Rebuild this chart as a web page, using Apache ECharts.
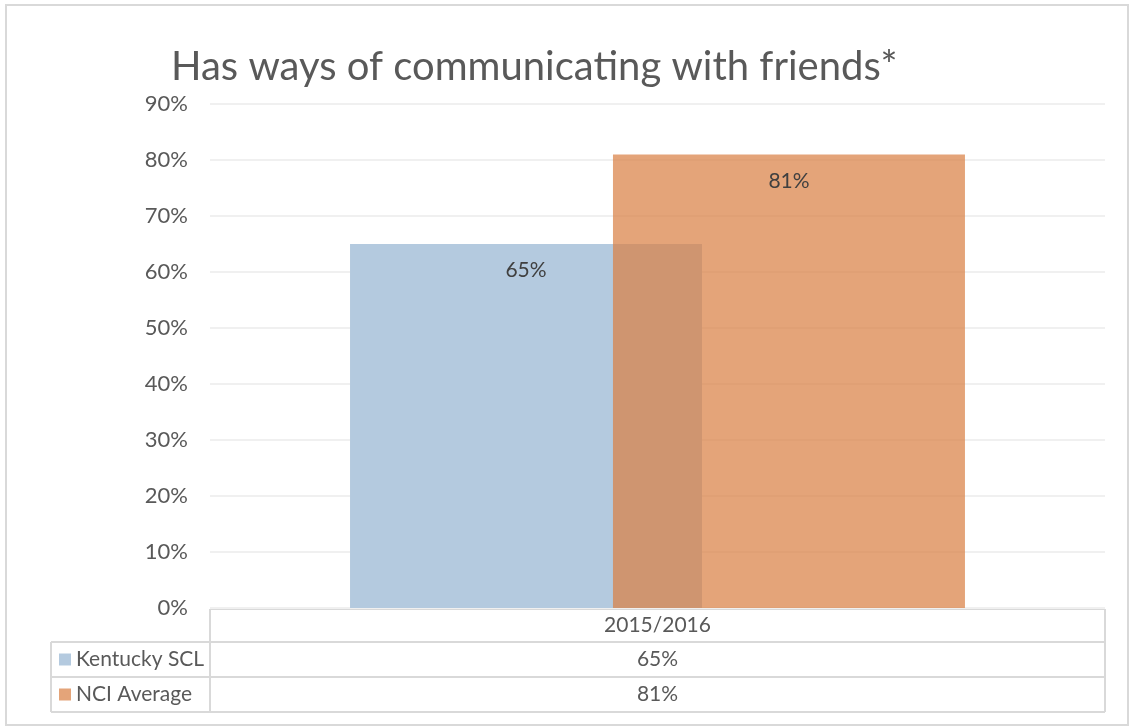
<!DOCTYPE html>
<html>
<head>
<meta charset="utf-8">
<script src="https://cdn.jsdelivr.net/npm/echarts@6/dist/echarts.min.js"></script>
<style>
  html, body { margin: 0; padding: 0; background: #fff; }
  #chart { width: 1130px; height: 726px; }
</style>
</head>
<body>
<div id="chart"></div>
<script>
// Chart content
const titleText = 'Has ways of communicating with friends*';
const categories = ['2015/2016'];
const seriesNames = ['Kentucky SCL', 'NCI Average'];
const kentuckyValues = [65];
const nciValues = [81];
const yTicks = { min: 0, max: 90, interval: 10 };

const FONT = 'Lato, "Noto Sans", sans-serif';
const TEXT = '#595959';
const LINE = '#D9D9D9';
const colors = ['rgba(180,202,223,1)', 'rgba(218,129,69,0.72)'];
const seriesValues = [kentuckyValues, nciValues];

const chart = echarts.init(document.getElementById('chart'), null, { renderer: 'canvas' });

// Plot area bounds
const plot = { left: 210, right: 1105, top: 104, bottom: 608 };
// Data table geometry
const table = { top: 609, rows: [642, 677, 712], legendLeft: 51 };

const fmt = v => v + '%';

function buildTable() {
  const g = [];
  const line = (x1, y1, x2, y2) => g.push({
    type: 'line', silent: true,
    shape: { x1, y1, x2, y2 },
    style: { stroke: LINE, lineWidth: 2 }
  });
  // horizontal rules
  line(plot.left, table.top, plot.right, table.top);
  line(table.legendLeft, table.rows[0], plot.right, table.rows[0]);
  line(table.legendLeft, table.rows[1], plot.right, table.rows[1]);
  line(table.legendLeft, table.rows[2], plot.right, table.rows[2]);
  // vertical rules
  line(plot.left, table.top, plot.left, table.rows[2]);
  line(plot.right, table.top, plot.right, table.rows[2]);
  line(table.legendLeft, table.rows[0], table.legendLeft, table.rows[2]);

  const w = (plot.right - plot.left) / categories.length;
  // header row: categories
  categories.forEach((c, i) => {
    g.push({
      type: 'text', silent: true,
      style: {
        text: c, x: plot.left + w * (i + 0.5), y: (table.top + table.rows[0]) / 2,
        fill: TEXT, font: '21px ' + FONT, textAlign: 'center', textVerticalAlign: 'middle'
      }
    });
  });
  // series rows: legend key, name, values
  seriesNames.forEach((name, s) => {
    const y0 = table.rows[s];
    const y1 = table.rows[s + 1];
    const ym = (y0 + y1) / 2;
    g.push({
      type: 'rect', silent: true,
      shape: { x: 59, y: ym - 6, width: 12, height: 12 },
      style: { fill: colors[s] }
    });
    g.push({
      type: 'text', silent: true,
      style: {
        text: name, x: 76, y: ym, fill: TEXT, font: '21px ' + FONT,
        textAlign: 'left', textVerticalAlign: 'middle'
      }
    });
    seriesValues[s].forEach((v, i) => {
      g.push({
        type: 'text', silent: true,
        style: {
          text: fmt(v), x: plot.left + w * (i + 0.5), y: ym, fill: TEXT, font: '21px ' + FONT,
          textAlign: 'center', textVerticalAlign: 'middle'
        }
      });
    });
  });
  // outer frame
  g.push({
    type: 'rect', silent: true,
    shape: { x: 6, y: 5, width: 1122, height: 720 },
    style: { fill: 'none', stroke: LINE, lineWidth: 2 }
  });
  return g;
}

const option = {
  animation: false,
  backgroundColor: '#fff',
  title: {
    text: titleText,
    left: 166, top: 42,
    textStyle: { fontFamily: FONT, fontSize: 40, fontWeight: 'normal', color: TEXT }
  },
  grid: {
    left: plot.left, right: 1130 - plot.right,
    top: plot.top, bottom: 726 - plot.bottom, containLabel: false
  },
  xAxis: {
    type: 'category', data: categories,
    axisLine: { show: false }, axisTick: { show: false }, axisLabel: { show: false }
  },
  yAxis: {
    type: 'value', min: yTicks.min, max: yTicks.max, interval: yTicks.interval,
    axisLine: { show: false }, axisTick: { show: false },
    axisLabel: { formatter: '{value}%', color: TEXT, fontFamily: FONT, fontSize: 22, margin: 22 },
    splitLine: { lineStyle: { color: '#F0F0F0', width: 2 } }
  },
  series: seriesNames.map((name, s) => ({
    name, type: 'bar', data: seriesValues[s],
    barWidth: 352, barGap: '-25.3%',
    itemStyle: { color: colors[s] },
    label: {
      show: true, position: 'insideTop', distance: 16, formatter: p => fmt(p.value),
      color: '#404040', fontFamily: FONT, fontSize: 21
    }
  })),
  graphic: buildTable()
};

chart.setOption(option);
</script>
</body>
</html>
